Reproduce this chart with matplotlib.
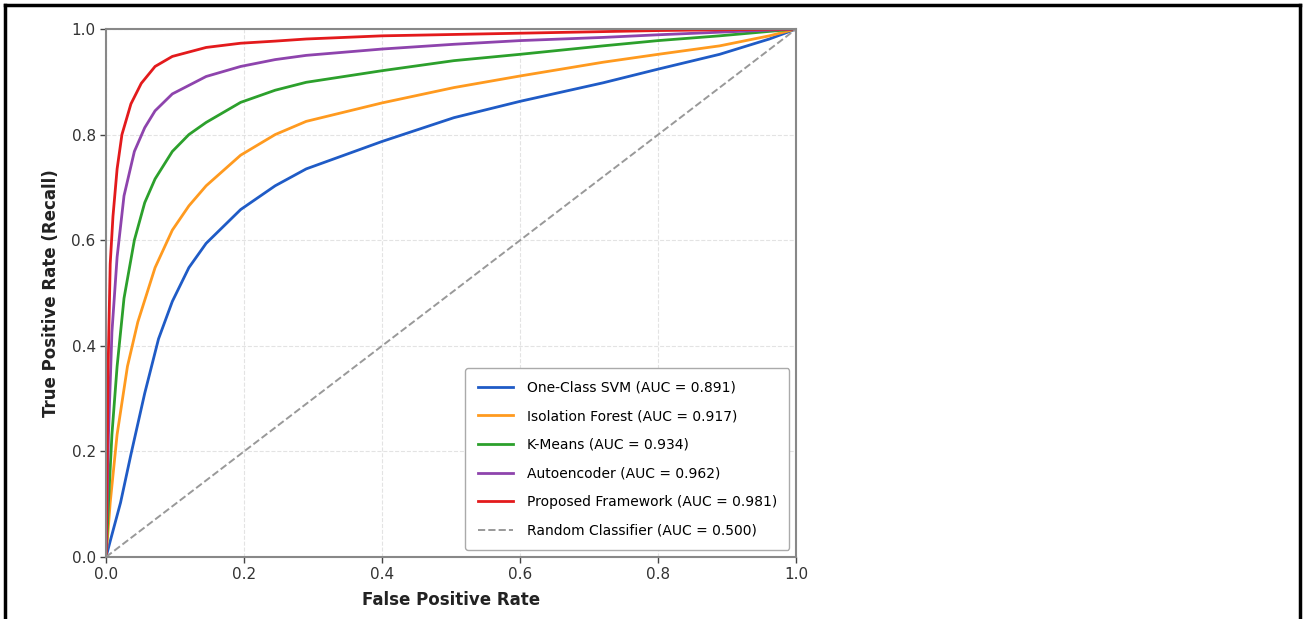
#!/usr/bin/env python3
"""ROC curves of the anomaly detectors compared with the proposed framework."""

import matplotlib
matplotlib.use('Agg')
import matplotlib.pyplot as plt
from matplotlib.lines import Line2D

#- curve points (fpr, tpr)

svm_fpr = [0, 0.006, 0.021, 0.036, 0.056, 0.076, 0.096, 0.120, 0.145, 0.195,
           0.245, 0.29, 0.4, 0.504, 0.6, 0.72, 0.8, 0.889, 0.961, 1.0]
svm_tpr = [0, 0.03, 0.103, 0.194, 0.31, 0.413, 0.484, 0.548, 0.594, 0.658,
           0.703, 0.735, 0.787, 0.832, 0.863, 0.898, 0.924, 0.952, 0.981, 1.0]

iso_fpr = [0, 0.006, 0.016, 0.031, 0.046, 0.071, 0.096, 0.120, 0.145, 0.195,
           0.245, 0.29, 0.4, 0.504, 0.6, 0.72, 0.8, 0.889, 0.961, 1.0]
iso_tpr = [0, 0.103, 0.232, 0.361, 0.445, 0.548, 0.619, 0.665, 0.703, 0.761,
           0.8, 0.825, 0.86, 0.889, 0.911, 0.937, 0.952, 0.968, 0.987, 1.0]

km_fpr = [0, 0.0035, 0.0085, 0.016, 0.026, 0.041, 0.056, 0.071, 0.096, 0.120,
          0.145, 0.195, 0.245, 0.29, 0.4, 0.504, 0.6, 0.72, 0.8, 0.889, 1.0]
km_tpr = [0, 0.103, 0.232, 0.361, 0.49, 0.6, 0.671, 0.716, 0.768, 0.8,
          0.823, 0.861, 0.884, 0.899, 0.921, 0.94, 0.952, 0.968, 0.978, 0.987,
          1.0]

ae_fpr = [0, 0.0035, 0.0085, 0.016, 0.026, 0.041, 0.056, 0.071, 0.096, 0.145,
          0.195, 0.245, 0.29, 0.4, 0.504, 0.6, 0.72, 0.8, 1.0]
ae_tpr = [0, 0.232, 0.426, 0.568, 0.684, 0.768, 0.813, 0.845, 0.877, 0.910,
          0.929, 0.942, 0.95, 0.962, 0.971, 0.978, 0.984, 0.989, 1.0]

pf_fpr = [0, 0.003, 0.006, 0.010, 0.016, 0.023, 0.036, 0.051, 0.071, 0.096,
          0.145, 0.195, 0.245, 0.29, 0.4, 0.6, 0.8, 1.0]
pf_tpr = [0, 0.361, 0.555, 0.645, 0.735, 0.8, 0.858, 0.897, 0.929, 0.948,
          0.965, 0.973, 0.977, 0.981, 0.987, 0.992, 0.997, 1.0]

labels = ['One-Class SVM (AUC = 0.891)', 'Isolation Forest (AUC = 0.917)',
          'K-Means (AUC = 0.934)', 'Autoencoder (AUC = 0.962)',
          'Proposed Framework (AUC = 0.981)']
colors = ['#1f5bc6', '#ff9a1f', '#2ca02c', '#8e44ad', '#e31a1c']
curves = [(svm_fpr, svm_tpr), (iso_fpr, iso_tpr), (km_fpr, km_tpr),
          (ae_fpr, ae_tpr), (pf_fpr, pf_tpr)]

#- figure and axes

fig = plt.figure(figsize=(13.03, 6.19), dpi=100)
ax = fig.add_axes([0.0814, 0.1002, 0.5297, 0.8530])

for (x, y), lab, col in zip(curves, labels, colors):
    ax.plot(x, y, color=col, lw=2, label=lab, solid_joinstyle='round')
ax.plot([0, 1], [0, 1], color='#999999', lw=1.4, ls='--',
        label='Random Classifier (AUC = 0.500)')

ax.set_xlim(0, 1)
ax.set_ylim(0, 1)
ax.set_xticks([0, 0.2, 0.4, 0.6, 0.8, 1.0])
ax.set_yticks([0, 0.2, 0.4, 0.6, 0.8, 1.0])
ax.tick_params(labelsize=11, colors='#444444', length=4, width=1,
               labelcolor='#333333')
ax.grid(True, color='#dddddd', lw=0.8, ls='--', alpha=0.8)
for s in ax.spines.values():
    s.set_color('#888888')
    s.set_linewidth(1.5)

ax.set_xlabel('False Positive Rate', fontsize=12, fontweight='bold',
              color='#222222', labelpad=6)
ax.set_ylabel('True Positive Rate (Recall)', fontsize=12, fontweight='bold',
              color='#222222', labelpad=8)

leg = ax.legend(loc='lower right', fontsize=10, labelspacing=1.05,
                handlelength=2.5, handletextpad=1.0, borderpad=0.9,
                framealpha=1, edgecolor='#aaaaaa', fancybox=True)

#- black frame around the picture (no bottom edge)

fig.add_artist(Line2D([0.0035, 0.0035], [0, 0.9915], color='black', lw=2.5,
                      transform=fig.transFigure))
fig.add_artist(Line2D([0.0035, 0.9975], [0.9915, 0.9915], color='black',
                      lw=2.5, transform=fig.transFigure))
fig.add_artist(Line2D([0.9975, 0.9975], [0, 0.9915], color='black', lw=2.5,
                      transform=fig.transFigure))

fig.savefig('out.png', dpi=100)
